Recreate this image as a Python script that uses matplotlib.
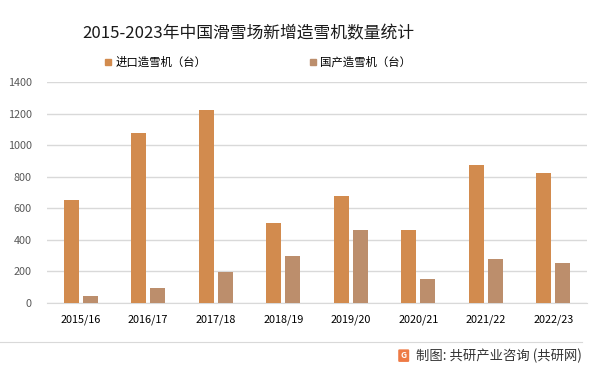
import matplotlib
matplotlib.use("Agg")
import matplotlib.pyplot as plt
from matplotlib.patches import FancyBboxPatch
from matplotlib.lines import Line2D
import numpy as np

plt.rcParams['font.family'] = ['Noto Sans CJK SC', 'DejaVu Sans']

# Données
seasons = ["2015/16", "2016/17", "2017/18", "2018/19", "2019/20", "2020/21", "2021/22", "2022/23"]
imported = [650, 1080, 1220, 505, 680, 465, 875, 825]
domestic = [45, 95, 195, 295, 465, 155, 280, 255]
label_imported = "进口造雪机（台）"
label_domestic = "国产造雪机（台）"
title = "2015-2023年中国滑雪场新增造雪机数量统计"
source = "制图: 共研产业咨询 (共研网)"

c_imp = "#D28B4E"
c_dom = "#BC8E6C"

fig = plt.figure(figsize=(5.99, 3.72), dpi=100)
ax = fig.add_axes([0.0785, 0.1855, 0.9015, 0.594])

x = np.arange(len(seasons))
w = 0.22
ax.bar(x - 0.14, imported, w, color=c_imp, label=label_imported, zorder=3)
ax.bar(x + 0.14, domestic, w, color=c_dom, label=label_domestic, zorder=3)

ax.set_xlim(-0.5, len(seasons) - 0.5)
ax.set_ylim(0, 1400)
ax.set_yticks(range(0, 1401, 200))
ax.set_xticks(x)
ax.set_xticklabels(seasons, fontsize=7.8, color="#000000")
ax.tick_params(axis="y", labelsize=7.8, labelcolor="#595959", length=0, pad=11)
ax.tick_params(axis="x", length=0, pad=8)
ax.grid(axis="y", color="#D9D9D9", linewidth=1, zorder=0)
for s in ["top", "right", "left"]:
    ax.spines[s].set_visible(False)
ax.spines["bottom"].set_color("#D9D9D9")

# Titre
fig.text(0.415, 0.91, title, ha="center", va="center", fontsize=12.1, color="#1a1a1a")

# Légende
handles = [Line2D([], [], marker="s", linestyle="", color=c_imp, markersize=5),
           Line2D([], [], marker="s", linestyle="", color=c_dom, markersize=5)]
fig.legend(handles, [label_imported, label_domestic], loc="center", bbox_to_anchor=(0.43, 0.833),
           ncol=2, frameon=False, fontsize=8.2, handlelength=0.8, handletextpad=0.2,
           columnspacing=9.0)

# Ligne de séparation et source
fig.add_artist(Line2D([0.0, 0.972], [0.081, 0.081], color="#D9D9D9", linewidth=0.8))
logo = FancyBboxPatch((0.667, 0.03), 0.014, 0.028, boxstyle="round,pad=0.001",
                      transform=fig.transFigure, color="#EE7A45")
fig.add_artist(logo)
fig.text(0.674, 0.044, "G", ha="center", va="center", fontsize=6, color="white", weight="bold")
fig.text(0.972, 0.043, source, ha="right", va="center", fontsize=9.6, color="#333333")

fig.savefig("out.png", dpi=100)
